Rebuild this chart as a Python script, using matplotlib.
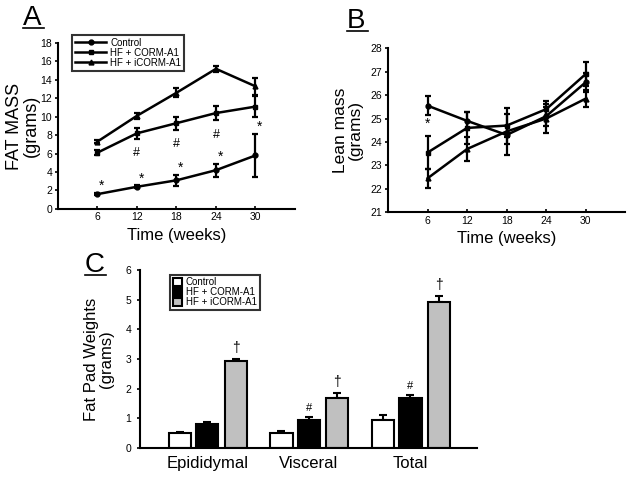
import numpy as np
import matplotlib.pyplot as plt
from matplotlib.lines import Line2D

plt.rcParams.update({
    'font.family': ['Liberation Sans', 'DejaVu Sans'],
    'axes.spines.top': False,
    'axes.spines.right': False,
    'axes.linewidth': 1.5,
    'xtick.major.width': 1.2,
    'ytick.major.width': 1.2,
    'xtick.major.size': 2.5,
    'ytick.major.size': 2.5,
    'xtick.major.pad': 2.5,
    'ytick.major.pad': 1.5,
    'xtick.labelsize': 7.5,
    'ytick.labelsize': 7.5,
})

# ---- data ----
weeks = [6, 12, 18, 24, 30]
groups = ['Control', 'HF + CORM-A1', 'HF + iCORM-A1']

fat_control = [1.6, 2.4, 3.1, 4.2, 5.8]
fat_control_err = [0.1, 0.15, 0.6, 0.7, 2.3]
fat_corm = [6.1, 8.2, 9.3, 10.4, 11.1]
fat_corm_err = [0.3, 0.6, 0.7, 0.8, 1.1]
fat_icorm = [7.3, 10.1, 12.6, 15.2, 13.3]
fat_icorm_err = [0.2, 0.3, 0.5, 0.3, 0.9]

lean_control = [25.55, 24.9, 24.3, 25.1, 26.55]
lean_control_err = [0.4, 0.4, 0.4, 0.4, 0.4]
lean_corm = [23.55, 24.6, 24.7, 25.4, 26.9]
lean_corm_err = [0.7, 0.7, 0.5, 0.35, 0.5]
lean_icorm = [22.45, 23.7, 24.45, 25.0, 25.85]
lean_icorm_err = [0.4, 0.5, 1.0, 0.6, 0.35]

depots = ['Epididymal', 'Visceral', 'Total']
pad_control = [0.51, 0.51, 0.93]
pad_control_err = [0.03, 0.07, 0.17]
pad_corm = [0.82, 0.95, 1.70]
pad_corm_err = [0.04, 0.08, 0.08]
pad_icorm = [2.94, 1.70, 4.91]
pad_icorm_err = [0.06, 0.14, 0.20]

fig = plt.figure(figsize=(6.29, 4.78), dpi=100)
axA = fig.add_axes([0.092, 0.563, 0.377, 0.347])
axB = fig.add_axes([0.617, 0.556, 0.377, 0.343])
axC = fig.add_axes([0.223, 0.063, 0.536, 0.372])

markers = ['o', 's', '^']
line_kw = dict(color='black', linewidth=1.8, markersize=3.5, capsize=2.5,
               elinewidth=1.6, capthick=1.6, ecolor='black')


def style_time_axis(ax):
    ax.set_xlim(0, 36)
    ax.set_xticks(weeks)
    ax.tick_params(axis='x', direction='in')
    ax.tick_params(axis='y', direction='out')
    ax.set_xlabel('Time (weeks)', fontsize=12, labelpad=4)


# ---- Panel A: fat mass ----
series_a = [(fat_control, fat_control_err), (fat_corm, fat_corm_err),
            (fat_icorm, fat_icorm_err)]
handles_a = []
for (vals, errs), m in zip(series_a, markers):
    cont = axA.errorbar(weeks, vals, yerr=errs, marker=m, **line_kw)
    handles_a.append(cont.lines[0])

for x, v, e in zip(weeks, fat_control, fat_control_err):
    axA.annotate('*', (x, v + e), xytext=(3, 0), textcoords='offset points',
                 ha='center', va='bottom', fontsize=10)
for x, v, e in list(zip(weeks, fat_corm, fat_corm_err))[1:4]:
    axA.annotate('#', (x, v - e), xytext=(0, -6), textcoords='offset points',
                 ha='center', va='top', fontsize=9)

axA.set_ylim(0, 18)
axA.set_yticks(np.arange(0, 19, 2))
style_time_axis(axA)
axA.set_ylabel('FAT MASS\n(grams)', fontsize=13, linespacing=1.0)
axA.yaxis.set_label_coords(-0.075, 0.5)
legA = axA.legend(handles_a, groups, loc='upper left',
                  bbox_to_anchor=(0.06, 1.05), fontsize=7,
                  frameon=True, fancybox=False, edgecolor='black',
                  handlelength=3.2, labelspacing=0.0, borderpad=0.3,
                  handletextpad=0.4, borderaxespad=0)
legA.get_frame().set_linewidth(1.5)

# ---- Panel B: lean mass ----
series_b = [(lean_control, lean_control_err), (lean_corm, lean_corm_err),
            (lean_icorm, lean_icorm_err)]
for (vals, errs), m in zip(series_b, markers):
    axB.errorbar(weeks, vals, yerr=errs, marker=m, **line_kw)
axB.annotate('*', (weeks[0], lean_control[0] - lean_control_err[0]),
             xytext=(0, -1), textcoords='offset points', ha='center',
             va='top', fontsize=10)

axB.set_ylim(21, 28)
axB.set_yticks(np.arange(21, 29, 1))
style_time_axis(axB)
axB.set_ylabel('Lean mass\n(grams)', fontsize=12.5, linespacing=1.0)
axB.yaxis.set_label_coords(-0.105, 0.5)

# ---- Panel C: fat pad weights ----
xpos = np.arange(len(depots)) + 1.0
width = 0.22
offsets = [-0.27, 0.0, 0.28]
colors = ['white', 'black', '#c0c0c0']
bar_series = [(pad_control, pad_control_err), (pad_corm, pad_corm_err),
              (pad_icorm, pad_icorm_err)]
for (vals, errs), off, col, lab in zip(bar_series, offsets, colors, groups):
    axC.bar(xpos + off, vals, width, color=col, edgecolor='black',
            linewidth=1.5, label=lab, zorder=2)
    axC.errorbar(xpos + off, vals, yerr=[np.zeros(len(vals)), errs], fmt='none',
                 ecolor='black', elinewidth=1.5, capsize=3, capthick=1.5,
                 zorder=1)

for x, v, e in zip(xpos + offsets[2], pad_icorm, pad_icorm_err):
    axC.annotate('\u2020', (x, v + e), xytext=(0, 3), textcoords='offset points',
                 ha='center', va='bottom', fontsize=10)
for x, v, e in list(zip(xpos + offsets[1], pad_corm, pad_corm_err))[1:]:
    axC.annotate('#', (x, v + e), xytext=(0, 3), textcoords='offset points',
                 ha='center', va='bottom', fontsize=8)

axC.set_xlim(0.34, 3.66)
axC.set_ylim(0, 6)
axC.set_yticks(range(0, 7))
axC.set_xticks(xpos)
axC.set_xticklabels(depots, fontsize=12)
axC.tick_params(axis='x', length=0, pad=6)
axC.tick_params(axis='y', direction='out', pad=4)
axC.set_ylabel('Fat Pad Weights\n(grams)', fontsize=12, linespacing=1.0,
               labelpad=8)
legC = axC.legend(loc='upper left', bbox_to_anchor=(0.089, 0.975), fontsize=7,
                  frameon=True, fancybox=False, edgecolor='black',
                  handlelength=0.9, handleheight=0.9, labelspacing=0.0,
                  borderpad=0.3, handletextpad=0.4, borderaxespad=0)
legC.get_frame().set_linewidth(1.5)

# ---- panel letters with underline ----
for letter, (x, y) in zip('ABC', [(23, 25), (347, 28), (85, 272)]):
    fig.text(x / 629, 1 - y / 478, letter, fontsize=20, ha='left',
             va='baseline')
    fig.add_artist(Line2D([x / 629, (x + 21) / 629],
                          [1 - (y + 3) / 478, 1 - (y + 3) / 478],
                          color='black', linewidth=1.2))

fig.savefig('out.png', dpi=100)
